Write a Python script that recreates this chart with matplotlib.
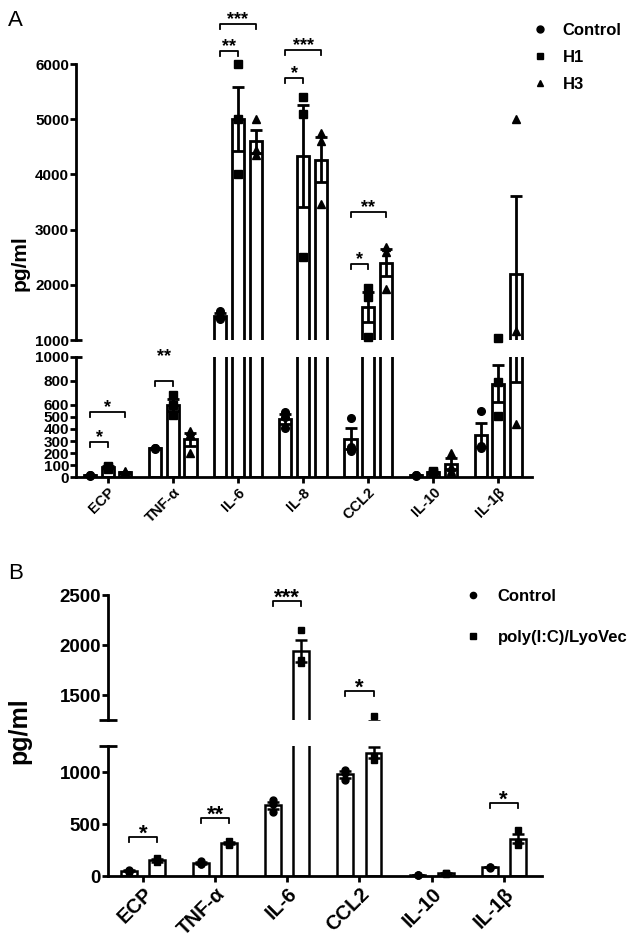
import numpy as np
import matplotlib
matplotlib.use("Agg")
import matplotlib.pyplot as plt
import matplotlib.transforms as mtransforms

plt.rcParams['font.family'] = ['Liberation Sans', 'DejaVu Sans']
plt.rcParams['font.weight'] = 'bold'

# ---- data, panel A (pg/ml, three replicates each) ----
cats_a = ['ECP', 'TNF-α', 'IL-6', 'IL-8', 'CCL2', 'IL-10', 'IL-1β']
groups_a = ['Control', 'H1', 'H3']
ctrl_a = [[10, 15, 20], [245, 240, 235], [1520, 1420, 1380], [540, 500, 410],
          [495, 250, 215], [10, 15, 20], [549, 260, 240]]
h1_a = [[95, 70, 80], [680, 600, 520], [6000, 5000, 4000], [5400, 5100, 2500],
        [1940, 1785, 1060], [30, 50, 40], [1036, 790, 510]]
h3_a = [[50, 30, 40], [384, 355, 200], [5000, 4450, 4350], [4750, 4600, 3460],
        [2690, 2600, 1920], [200, 80, 50], [5000, 1170, 440]]
# (category, group i, group j, bracket height, label)
sig_a = [(0, 0, 1, 295, '*'), (0, 0, 2, 544, '*'), (1, 0, 1, 800, '**'),
         (2, 0, 1, 6235, '**'), (2, 0, 2, 6725, '***'),
         (3, 0, 1, 5745, '*'), (3, 0, 2, 6250, '***'),
         (4, 0, 1, 2377, '*'), (4, 0, 2, 3324, '**')]
sig_pad_a = [0, 0, 14, 0, 0, 0, 0, 0, 0]

# ---- data, panel B ----
cats_b = ['ECP', 'TNF-α', 'IL-6', 'CCL2', 'IL-10', 'IL-1β']
groups_b = ['Control', 'poly(I:C)/LyoVec']
ctrl_b = [[40, 60, 50], [140, 120, 120], [730, 690, 620], [1020, 990, 920],
          [5, 5, 5], [90, 90, 80]]
poly_b = [[170, 130, 150], [340, 300, 310], [2150, 1850, 1820], [1290, 1150, 1115],
          [20, 30, 30], [440, 330, 300]]
sig_b = [(0, 0, 1, 371, '*'), (1, 0, 1, 556, '**'), (2, 0, 1, 2440, '***'),
         (3, 0, 1, 1540, '*'), (5, 0, 1, 700, '*')]

W, H = 630, 938
fig = plt.figure(figsize=(W / 100, H / 100), dpi=100)


def fpos(l, t, r, b):
    return [l / W, 1 - b / H, (r - l) / W, (b - t) / H]


def px_to_data(ax, px):
    y0, y1 = ax.get_ylim()
    return px * (y1 - y0) / (ax.get_position().height * H)


def draw_bars(ax, data, offsets, width, markers, ms, lw, cap):
    lo, hi = ax.get_ylim()
    for pts_list, off, mk in zip(data, offsets, markers):
        x = np.arange(len(pts_list)) + off
        means = np.array([np.mean(p) for p in pts_list])
        sems = np.array([np.std(p, ddof=1) / np.sqrt(len(p)) for p in pts_list])
        ax.bar(x, means, width, color='white', edgecolor='black', linewidth=lw, zorder=2)
        ax.errorbar(x, means, yerr=sems, fmt='none', ecolor='black', elinewidth=lw,
                    capsize=cap, capthick=lw, zorder=3)
        for xi, p in zip(x, pts_list):
            # each replicate goes on the segment of the broken axis it falls in
            p = [v for v in p if lo <= v <= hi]
            ax.plot([xi] * len(p), p, ls='none', marker=mk, color='black', ms=ms,
                    zorder=10, clip_on=False)


def draw_sig(ax, x1, x2, y, label, fs, pad):
    t = px_to_data(ax, 5)
    ax.plot([x1, x1, x2, x2], [y - t, y, y, y - t], color='black', lw=1.3, clip_on=False)
    ax.annotate(label, ((x1 + x2) / 2, y), xytext=(0, pad), textcoords='offset points',
                ha='center', va='baseline', fontsize=fs, annotation_clip=False)


def style_axes(up, lo, brk, c, tick_fs, spw):
    for ax in (up, lo):
        for s in ('top', 'right'):
            ax.spines[s].set_visible(False)
        ax.spines['left'].set_linewidth(spw)
        ax.tick_params(axis='y', width=spw, length=4, labelsize=tick_fs, pad=1)
    up.spines['bottom'].set_visible(False)
    up.tick_params(axis='x', bottom=False, labelbottom=False)
    lo.spines['bottom'].set_linewidth(spw)
    lo.tick_params(axis='x', width=spw, length=4, pad=2)
    for ax in (up, lo):
        tr = mtransforms.blended_transform_factory(ax.transAxes, ax.transData)
        ax.plot([-c[0], c[1]], [brk, brk], transform=tr, color='black', lw=spw,
                clip_on=False, solid_capstyle='butt')


# ================= panel A =================
axa_u = fig.add_axes(fpos(76, 9, 532, 340))
axa_l = fig.add_axes(fpos(76, 357, 532, 477))
offs_a = [-0.27, 0.0, 0.27]
for ax in (axa_u, axa_l):
    ax.set_xlim(-0.49, 6.52)
axa_u.set_ylim(1000, 7000)
axa_l.set_ylim(0, 1000)
for ax in (axa_u, axa_l):
    draw_bars(ax, [ctrl_a, h1_a, h3_a], offs_a, 0.185, ['o', 's', '^'], 5.5, 2, 4)
axa_u.spines['left'].set_bounds(1000, 6000)
axa_u.set_yticks([1000, 2000, 3000, 4000, 5000, 6000])
axa_l.set_yticks([0, 100, 200, 300, 400, 500, 600, 800, 1000])
style_axes(axa_u, axa_l, 1000, (0.0, 0.014), 11, 2)
axa_l.set_xticks(range(len(cats_a)))
axa_l.set_xticklabels(cats_a, rotation=45, ha='right', rotation_mode='anchor', fontsize=10.5)
for (ci, g1, g2, y, lab), pad in zip(sig_a, sig_pad_a):
    ax = axa_u if y > 1000 else axa_l
    draw_sig(ax, ci + offs_a[g1], ci + offs_a[g2], y, lab, 13, pad)
fig.text(20 / W, 1 - 263 / H, 'pg/ml', rotation=90, ha='center', va='center', fontsize=15)
fig.text(8 / W, 1 - 20 / H, 'A', fontsize=16, fontweight='normal', va='center')
h_a = [plt.Line2D([], [], ls='none', marker=m, color='black', ms=5) for m in ['o', 's', '^']]
fig.legend(h_a, groups_a, loc='upper left', bbox_to_anchor=(532 / W, 1 - 23 / H),
           frameon=False, fontsize=12, handlelength=1, handletextpad=0.85,
           labelspacing=0.72, borderpad=0, borderaxespad=0)

# ================= panel B =================
axb_u = fig.add_axes(fpos(108, 580, 542, 720))
axb_l = fig.add_axes(fpos(108, 746, 542, 876))
offs_b = [-0.195, 0.195]
for ax in (axb_u, axb_l):
    ax.set_xlim(-0.486, 5.53)
axb_u.set_ylim(1250, 2650)
axb_l.set_ylim(0, 1250)
for ax in (axb_u, axb_l):
    draw_bars(ax, [ctrl_b, poly_b], offs_b, 0.22, ['o', 's'], 5, 1.8, 4)
axb_u.spines['left'].set_bounds(1250, 2500)
axb_u.set_yticks([1500, 2000, 2500])
axb_l.set_yticks([0, 500, 1000])
style_axes(axb_u, axb_l, 1250, (0.02, 0.02), 13.5, 2)
axb_l.set_xticks(range(len(cats_b)))
axb_l.set_xticklabels(cats_b, rotation=45, ha='right', rotation_mode='anchor', fontsize=14.5)
for ci, g1, g2, y, lab in sig_b:
    ax = axb_u if y > 1250 else axb_l
    draw_sig(ax, ci + offs_b[g1], ci + offs_b[g2], y, lab, 16, -2)
fig.text(19 / W, 1 - 731 / H, 'pg/ml', rotation=90, ha='center', va='center', fontsize=18)
fig.text(8 / W, 1 - 573 / H, 'B', fontsize=16, fontweight='normal', va='center')
h_b = [plt.Line2D([], [], ls='none', marker=m, color='black', ms=4.5) for m in ['o', 's']]
fig.legend(h_b, groups_b, loc='upper left', bbox_to_anchor=(465 / W, 1 - 589 / H),
           frameon=False, fontsize=12, handlelength=1, handletextpad=0.95,
           labelspacing=1.55, borderpad=0, borderaxespad=0)

fig.savefig('out.png', dpi=100)
